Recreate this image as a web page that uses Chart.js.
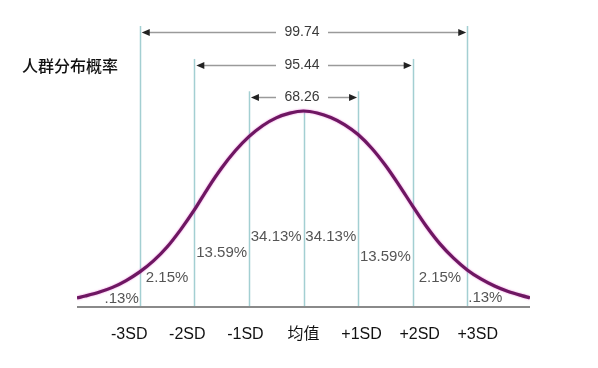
<!DOCTYPE html>
<html>
<head>
<meta charset="utf-8">
<script src="https://cdn.jsdelivr.net/npm/chart.js@4"></script>
<style>
  html, body { margin: 0; padding: 0; background: #fff; }
  #wrap { width: 598px; height: 368px; position: relative; }
</style>
</head>
<body>
<div id="wrap"><canvas id="bellChart"></canvas></div>
<script>
// Chart data (x in SD units, y as % of peak height)
const sdTicks = [-3, -2, -1, 0, 1, 2, 3];
const tickLabels = ['-3SD', '-2SD', '-1SD', '均值', '+1SD', '+2SD', '+3SD'];
const curveX = [-4.15, -4, -3.75, -3.5, -3.25, -3, -2.75, -2.5, -2.25, -2, -1.75, -1.5, -1.25, -1, -0.75, -0.5, -0.25, 0,
                0.25, 0.5, 0.75, 1, 1.25, 1.5, 1.75, 2, 2.25, 2.5, 2.75, 3, 3.25, 3.5, 3.75, 4, 4.15];
const curveY = [4.6, 5.6, 7.5, 10.0, 13.5, 17.9, 23.5, 30.6, 39.5, 49.5, 60.7, 70.9, 79.7, 86.9, 92.5, 96.5, 98.9, 100,
                99.0, 96.7, 93.1, 88.0, 81.0, 72.3, 62.2, 51.5, 41.2, 32.2, 24.9, 18.9, 14.3, 10.7, 7.9, 5.8, 4.7];
const bandLabels = ['.13%', '2.15%', '13.59%', '34.13%', '34.13%', '13.59%', '2.15%', '.13%'];
const intervalLabels = ['68.26', '95.44', '99.74'];
const intervalSpans = [1, 2, 3];
const yTitle = '人群分布概率';

// layout / style helpers (not data)
const bandLift = [4.1, 14.8, 27.6, 35.7, 35.7, 25.5, 14.8, 4.6];   // label height in y units
const rowLevels = [107, 123.5, 140.3];                             // arrow rows in y units
const guideColor = '#a3cfd2';
const numFont = "15px 'Liberation Sans', Arial, sans-serif";

function drawArrowHead(ctx, x, y, dir) {
    ctx.beginPath();
    ctx.moveTo(x, y);
    ctx.lineTo(x - dir * 8, y - 3.5);
    ctx.lineTo(x - dir * 8, y + 3.5);
    ctx.closePath();
    ctx.fill();
}

const bellDecor = {
    id: 'bellDecor',
    beforeDatasetsDraw(chart) {
        const { ctx, chartArea, scales: { x, y } } = chart;
        ctx.save();
        // vertical guide lines
        ctx.strokeStyle = guideColor;
        ctx.lineWidth = 1.5;
        sdTicks.forEach(v => {
            const px = Math.round(x.getPixelForValue(v)) + 0.5;
            let top;
            if (v === 0) top = y.getPixelForValue(Math.max(...curveY));
            else top = y.getPixelForValue(rowLevels[Math.abs(v) - 1]) - 6;
            ctx.beginPath();
            ctx.moveTo(px, chartArea.bottom);
            ctx.lineTo(px, top);
            ctx.stroke();
        });
        // baseline
        ctx.strokeStyle = '#8a8a8a';
        ctx.lineWidth = 2;
        ctx.beginPath();
        ctx.moveTo(chartArea.left, chartArea.bottom);
        ctx.lineTo(chartArea.right, chartArea.bottom);
        ctx.stroke();
        ctx.restore();
    },
    beforeDatasetDraw(chart) {
        chart.ctx.save();
        chart.ctx.shadowColor = 'rgba(225, 70, 200, 0.7)';
        chart.ctx.shadowBlur = 2;
    },
    afterDatasetDraw(chart) {
        chart.ctx.restore();
    },
    afterDraw(chart) {
        const { ctx, chartArea, scales: { x, y } } = chart;
        ctx.save();

        // interval arrows
        const cx = x.getPixelForValue(0) - 1.5;
        intervalLabels.forEach((txt, i) => {
            const ry = Math.round(y.getPixelForValue(rowLevels[i])) + 0.5;
            const xl = x.getPixelForValue(-intervalSpans[i]) + 2;
            const xr = x.getPixelForValue(intervalSpans[i]) - 1;
            ctx.strokeStyle = '#9a9a9a';
            ctx.lineWidth = 1.5;
            ctx.beginPath();
            ctx.moveTo(xl + 4, ry);
            ctx.lineTo(cx - 26, ry);
            ctx.moveTo(cx + 26, ry);
            ctx.lineTo(xr - 4, ry);
            ctx.stroke();
            ctx.fillStyle = '#222';
            drawArrowHead(ctx, xl, ry, -1);
            drawArrowHead(ctx, xr, ry, 1);
            ctx.fillStyle = '#3a3a3a';
            ctx.font = "14px 'Liberation Sans', Arial, sans-serif";
            ctx.textAlign = 'center';
            ctx.textBaseline = 'middle';
            ctx.fillText(txt, cx, ry);
        });

        // band percentages
        ctx.font = numFont;
        ctx.fillStyle = '#555';
        ctx.textBaseline = 'middle';
        bandLabels.forEach((txt, i) => {
            const ly = y.getPixelForValue(bandLift[i]);
            if (i === 0) {
                ctx.textAlign = 'right';
                ctx.fillText(txt, x.getPixelForValue(-3) - 1, ly);
            } else if (i === bandLabels.length - 1) {
                ctx.textAlign = 'left';
                ctx.fillText(txt, x.getPixelForValue(3) + 1, ly);
            } else {
                ctx.textAlign = 'center';
                ctx.fillText(txt, x.getPixelForValue(i - 4 + 0.5), ly);
            }
        });

        // x labels
        ctx.font = "16px 'Liberation Sans', 'Noto Sans CJK SC', sans-serif";
        ctx.fillStyle = '#111';
        ctx.textAlign = 'center';
        sdTicks.forEach((v, i) => {
            ctx.fillText(tickLabels[i], x.getPixelForValue(v) + v * 3.5, chartArea.bottom + 28);
        });

        // y title
        ctx.font = "500 16px 'Noto Sans CJK SC', sans-serif";
        ctx.textAlign = 'left';
        ctx.fillText(yTitle, 22, 66);
        ctx.restore();
    }
};

const ctx = document.getElementById('bellChart').getContext('2d');
const bellChart = new Chart(ctx, {
    type: 'line',
    data: {
        datasets: [{
            data: curveX.map((v, i) => ({ x: v, y: curveY[i] })),
            borderColor: '#6e1762',
            borderWidth: 3.2,
            pointRadius: 0,
            cubicInterpolationMode: 'monotone',
            fill: false
        }]
    },
    options: {
        responsive: true,
        maintainAspectRatio: false,
        animation: false,
        layout: { padding: { left: 77, right: 68, top: 13, bottom: 61 } },
        plugins: { legend: { display: false }, tooltip: { enabled: false } },
        scales: {
            x: { type: 'linear', min: -4.15, max: 4.15, display: false },
            y: { min: 0, max: 150, display: false }
        }
    },
    plugins: [bellDecor]
});
</script>
</body>
</html>
